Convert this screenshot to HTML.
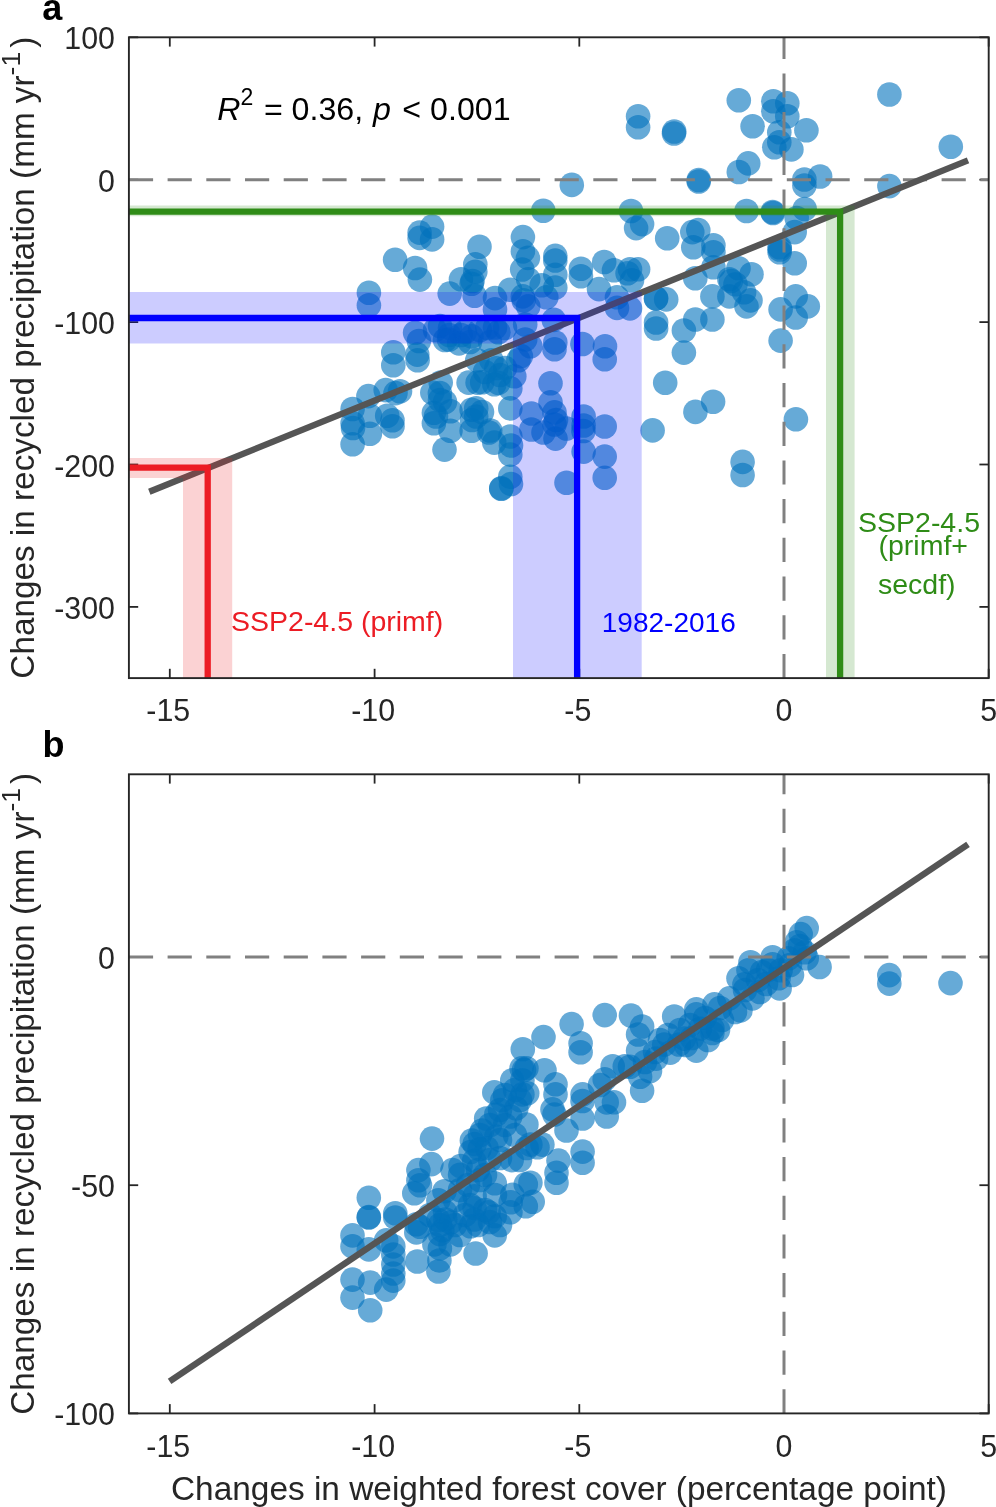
<!DOCTYPE html><html><head><meta charset="utf-8"><style>html,body{margin:0;padding:0;background:#fff;overflow:hidden}svg{display:block;will-change:transform}text{font-family:"Liberation Sans",sans-serif}</style></head><body><svg width="996" height="1507" viewBox="0 0 996 1507"><defs><clipPath id="ca"><rect x="128.9" y="37.3" width="859.8" height="640.8"/></clipPath><clipPath id="cb"><rect x="128.9" y="774.3" width="859.8" height="639.1"/></clipPath></defs><line x1="169.8" y1="678.1" x2="169.8" y2="668.8" stroke="#262626" stroke-width="1.8"/><line x1="169.8" y1="37.3" x2="169.8" y2="46.6" stroke="#262626" stroke-width="1.8"/><line x1="374.6" y1="678.1" x2="374.6" y2="668.8" stroke="#262626" stroke-width="1.8"/><line x1="374.6" y1="37.3" x2="374.6" y2="46.6" stroke="#262626" stroke-width="1.8"/><line x1="579.3" y1="678.1" x2="579.3" y2="668.8" stroke="#262626" stroke-width="1.8"/><line x1="579.3" y1="37.3" x2="579.3" y2="46.6" stroke="#262626" stroke-width="1.8"/><line x1="784.0" y1="678.1" x2="784.0" y2="668.8" stroke="#262626" stroke-width="1.8"/><line x1="784.0" y1="37.3" x2="784.0" y2="46.6" stroke="#262626" stroke-width="1.8"/><line x1="988.7" y1="678.1" x2="988.7" y2="668.8" stroke="#262626" stroke-width="1.8"/><line x1="988.7" y1="37.3" x2="988.7" y2="46.6" stroke="#262626" stroke-width="1.8"/><line x1="128.9" y1="37.3" x2="138.2" y2="37.3" stroke="#262626" stroke-width="1.8"/><line x1="988.7" y1="37.3" x2="979.4" y2="37.3" stroke="#262626" stroke-width="1.8"/><line x1="128.9" y1="179.7" x2="138.2" y2="179.7" stroke="#262626" stroke-width="1.8"/><line x1="988.7" y1="179.7" x2="979.4" y2="179.7" stroke="#262626" stroke-width="1.8"/><line x1="128.9" y1="322.1" x2="138.2" y2="322.1" stroke="#262626" stroke-width="1.8"/><line x1="988.7" y1="322.1" x2="979.4" y2="322.1" stroke="#262626" stroke-width="1.8"/><line x1="128.9" y1="464.5" x2="138.2" y2="464.5" stroke="#262626" stroke-width="1.8"/><line x1="988.7" y1="464.5" x2="979.4" y2="464.5" stroke="#262626" stroke-width="1.8"/><line x1="128.9" y1="606.9" x2="138.2" y2="606.9" stroke="#262626" stroke-width="1.8"/><line x1="988.7" y1="606.9" x2="979.4" y2="606.9" stroke="#262626" stroke-width="1.8"/><g clip-path="url(#ca)"><g fill="#0072bd" fill-opacity="0.6"><circle cx="419.6" cy="232.6" r="12.3"/><circle cx="419.6" cy="237.9" r="12.3"/><circle cx="432.1" cy="226.6" r="12.3"/><circle cx="432.1" cy="239.4" r="12.3"/><circle cx="395.1" cy="259.7" r="12.3"/><circle cx="415.1" cy="268.0" r="12.3"/><circle cx="419.9" cy="279.6" r="12.3"/><circle cx="368.9" cy="292.8" r="12.3"/><circle cx="368.9" cy="305.2" r="12.3"/><circle cx="475.3" cy="264.2" r="12.3"/><circle cx="475.3" cy="271.7" r="12.3"/><circle cx="461.0" cy="279.3" r="12.3"/><circle cx="471.6" cy="283.8" r="12.3"/><circle cx="449.7" cy="293.6" r="12.3"/><circle cx="474.6" cy="295.8" r="12.3"/><circle cx="415.1" cy="332.7" r="12.3"/><circle cx="418.9" cy="341.0" r="12.3"/><circle cx="393.3" cy="352.3" r="12.3"/><circle cx="417.3" cy="354.6" r="12.3"/><circle cx="440.0" cy="326.0" r="12.3"/><circle cx="449.0" cy="339.5" r="12.3"/><circle cx="461.0" cy="335.0" r="12.3"/><circle cx="393.3" cy="365.3" r="12.3"/><circle cx="352.6" cy="409.0" r="12.3"/><circle cx="368.4" cy="396.1" r="12.3"/><circle cx="385.7" cy="390.1" r="12.3"/><circle cx="395.5" cy="393.1" r="12.3"/><circle cx="352.6" cy="423.3" r="12.3"/><circle cx="352.6" cy="444.3" r="12.3"/><circle cx="369.9" cy="433.8" r="12.3"/><circle cx="387.2" cy="415.7" r="12.3"/><circle cx="392.5" cy="420.2" r="12.3"/><circle cx="392.5" cy="426.3" r="12.3"/><circle cx="440.7" cy="382.6" r="12.3"/><circle cx="439.9" cy="393.1" r="12.3"/><circle cx="433.9" cy="412.7" r="12.3"/><circle cx="433.9" cy="423.3" r="12.3"/><circle cx="450.5" cy="411.2" r="12.3"/><circle cx="450.5" cy="430.8" r="12.3"/><circle cx="444.5" cy="449.6" r="12.3"/><circle cx="468.6" cy="382.6" r="12.3"/><circle cx="471.6" cy="409.7" r="12.3"/><circle cx="471.6" cy="430.8" r="12.3"/><circle cx="477.6" cy="382.6" r="12.3"/><circle cx="369.9" cy="415.7" r="12.3"/><circle cx="543.3" cy="210.8" r="12.3"/><circle cx="522.9" cy="237.1" r="12.3"/><circle cx="522.9" cy="251.4" r="12.3"/><circle cx="527.9" cy="257.9" r="12.3"/><circle cx="555.3" cy="255.9" r="12.3"/><circle cx="555.3" cy="260.5" r="12.3"/><circle cx="522.2" cy="269.5" r="12.3"/><circle cx="555.3" cy="274.8" r="12.3"/><circle cx="555.3" cy="287.6" r="12.3"/><circle cx="580.9" cy="268.7" r="12.3"/><circle cx="580.9" cy="276.3" r="12.3"/><circle cx="604.2" cy="262.0" r="12.3"/><circle cx="614.0" cy="270.2" r="12.3"/><circle cx="627.6" cy="273.3" r="12.3"/><circle cx="599.0" cy="289.1" r="12.3"/><circle cx="617.0" cy="297.3" r="12.3"/><circle cx="617.0" cy="307.9" r="12.3"/><circle cx="528.2" cy="279.3" r="12.3"/><circle cx="541.7" cy="285.3" r="12.3"/><circle cx="510.1" cy="289.8" r="12.3"/><circle cx="495.0" cy="298.1" r="12.3"/><circle cx="495.0" cy="309.4" r="12.3"/><circle cx="523.7" cy="300.4" r="12.3"/><circle cx="528.2" cy="306.4" r="12.3"/><circle cx="546.3" cy="297.3" r="12.3"/><circle cx="553.8" cy="319.9" r="12.3"/><circle cx="495.0" cy="327.5" r="12.3"/><circle cx="525.2" cy="324.5" r="12.3"/><circle cx="525.2" cy="339.5" r="12.3"/><circle cx="555.3" cy="342.5" r="12.3"/><circle cx="582.4" cy="344.0" r="12.3"/><circle cx="605.0" cy="346.3" r="12.3"/><circle cx="554.5" cy="349.2" r="12.3"/><circle cx="530.4" cy="346.2" r="12.3"/><circle cx="604.7" cy="359.2" r="12.3"/><circle cx="550.5" cy="383.3" r="12.3"/><circle cx="550.5" cy="402.4" r="12.3"/><circle cx="554.5" cy="412.4" r="12.3"/><circle cx="554.5" cy="424.5" r="12.3"/><circle cx="531.4" cy="413.5" r="12.3"/><circle cx="531.4" cy="429.5" r="12.3"/><circle cx="543.5" cy="432.5" r="12.3"/><circle cx="555.5" cy="438.6" r="12.3"/><circle cx="566.5" cy="428.5" r="12.3"/><circle cx="583.6" cy="416.5" r="12.3"/><circle cx="583.6" cy="425.5" r="12.3"/><circle cx="604.7" cy="426.5" r="12.3"/><circle cx="583.6" cy="451.6" r="12.3"/><circle cx="604.7" cy="456.6" r="12.3"/><circle cx="604.7" cy="477.7" r="12.3"/><circle cx="566.5" cy="482.7" r="12.3"/><circle cx="510.3" cy="408.4" r="12.3"/><circle cx="510.3" cy="436.5" r="12.3"/><circle cx="510.3" cy="454.6" r="12.3"/><circle cx="510.3" cy="476.7" r="12.3"/><circle cx="501.3" cy="488.8" r="12.3"/><circle cx="514.3" cy="376.3" r="12.3"/><circle cx="510.3" cy="388.4" r="12.3"/><circle cx="494.3" cy="384.3" r="12.3"/><circle cx="482.2" cy="382.3" r="12.3"/><circle cx="496.3" cy="368.3" r="12.3"/><circle cx="518.4" cy="360.2" r="12.3"/><circle cx="476.2" cy="408.4" r="12.3"/><circle cx="476.2" cy="416.5" r="12.3"/><circle cx="490.2" cy="430.5" r="12.3"/><circle cx="494.3" cy="442.6" r="12.3"/><circle cx="436.0" cy="416.5" r="12.3"/><circle cx="631.0" cy="211.0" r="12.3"/><circle cx="636.1" cy="228.1" r="12.3"/><circle cx="642.1" cy="224.1" r="12.3"/><circle cx="667.2" cy="238.2" r="12.3"/><circle cx="692.3" cy="232.1" r="12.3"/><circle cx="698.3" cy="230.1" r="12.3"/><circle cx="693.3" cy="247.2" r="12.3"/><circle cx="713.4" cy="245.2" r="12.3"/><circle cx="713.4" cy="252.2" r="12.3"/><circle cx="713.4" cy="267.3" r="12.3"/><circle cx="695.3" cy="278.3" r="12.3"/><circle cx="746.5" cy="211.0" r="12.3"/><circle cx="772.6" cy="212.0" r="12.3"/><circle cx="804.7" cy="209.0" r="12.3"/><circle cx="796.7" cy="218.1" r="12.3"/><circle cx="794.7" cy="232.1" r="12.3"/><circle cx="779.6" cy="247.2" r="12.3"/><circle cx="779.6" cy="252.2" r="12.3"/><circle cx="794.7" cy="263.3" r="12.3"/><circle cx="638.1" cy="269.3" r="12.3"/><circle cx="630.0" cy="269.3" r="12.3"/><circle cx="632.0" cy="280.3" r="12.3"/><circle cx="656.1" cy="298.4" r="12.3"/><circle cx="666.2" cy="299.4" r="12.3"/><circle cx="630.0" cy="308.4" r="12.3"/><circle cx="656.1" cy="322.5" r="12.3"/><circle cx="656.1" cy="328.5" r="12.3"/><circle cx="729.4" cy="279.3" r="12.3"/><circle cx="738.5" cy="268.3" r="12.3"/><circle cx="751.5" cy="274.3" r="12.3"/><circle cx="735.5" cy="284.3" r="12.3"/><circle cx="729.4" cy="296.4" r="12.3"/><circle cx="712.4" cy="296.4" r="12.3"/><circle cx="750.5" cy="300.4" r="12.3"/><circle cx="746.5" cy="306.4" r="12.3"/><circle cx="695.3" cy="319.5" r="12.3"/><circle cx="712.4" cy="319.5" r="12.3"/><circle cx="683.9" cy="330.5" r="12.3"/><circle cx="683.9" cy="352.6" r="12.3"/><circle cx="665.2" cy="382.7" r="12.3"/><circle cx="780.6" cy="309.4" r="12.3"/><circle cx="795.7" cy="296.4" r="12.3"/><circle cx="795.7" cy="317.5" r="12.3"/><circle cx="807.8" cy="306.4" r="12.3"/><circle cx="780.6" cy="340.6" r="12.3"/><circle cx="638.1" cy="116.2" r="12.3"/><circle cx="638.1" cy="127.2" r="12.3"/><circle cx="674.2" cy="131.5" r="12.3"/><circle cx="698.7" cy="180.0" r="12.3"/><circle cx="571.8" cy="184.9" r="12.3"/><circle cx="738.8" cy="100.2" r="12.3"/><circle cx="773.3" cy="101.2" r="12.3"/><circle cx="787.3" cy="103.2" r="12.3"/><circle cx="773.3" cy="111.2" r="12.3"/><circle cx="787.3" cy="116.2" r="12.3"/><circle cx="752.6" cy="126.3" r="12.3"/><circle cx="779.3" cy="132.3" r="12.3"/><circle cx="806.4" cy="130.3" r="12.3"/><circle cx="779.3" cy="142.3" r="12.3"/><circle cx="774.3" cy="147.3" r="12.3"/><circle cx="791.4" cy="149.4" r="12.3"/><circle cx="748.2" cy="163.4" r="12.3"/><circle cx="738.8" cy="172.0" r="12.3"/><circle cx="804.4" cy="179.5" r="12.3"/><circle cx="804.4" cy="185.5" r="12.3"/><circle cx="820.1" cy="176.5" r="12.3"/><circle cx="889.4" cy="94.5" r="12.3"/><circle cx="889.4" cy="186.1" r="12.3"/><circle cx="950.8" cy="146.7" r="12.3"/><circle cx="795.9" cy="419.3" r="12.3"/><circle cx="744.1" cy="292.2" r="12.3"/><circle cx="713.1" cy="401.7" r="12.3"/><circle cx="695.4" cy="411.9" r="12.3"/><circle cx="652.6" cy="430.4" r="12.3"/><circle cx="742.6" cy="461.9" r="12.3"/><circle cx="742.6" cy="475.0" r="12.3"/><circle cx="417.6" cy="360.3" r="12.3"/><circle cx="449.2" cy="335.0" r="12.3"/><circle cx="459.0" cy="343.4" r="12.3"/><circle cx="471.7" cy="336.4" r="12.3"/><circle cx="487.2" cy="328.0" r="12.3"/><circle cx="498.4" cy="332.2" r="12.3"/><circle cx="520.9" cy="356.1" r="12.3"/><circle cx="477.3" cy="360.3" r="12.3"/><circle cx="491.4" cy="360.3" r="12.3"/><circle cx="498.4" cy="382.8" r="12.3"/><circle cx="432.3" cy="392.6" r="12.3"/><circle cx="400.0" cy="391.2" r="12.3"/><circle cx="435.0" cy="330.0" r="12.3"/><circle cx="450.0" cy="328.0" r="12.3"/><circle cx="465.0" cy="332.0" r="12.3"/><circle cx="480.0" cy="330.0" r="12.3"/><circle cx="505.0" cy="328.0" r="12.3"/><circle cx="445.0" cy="340.0" r="12.3"/><circle cx="470.0" cy="342.0" r="12.3"/><circle cx="490.0" cy="342.0" r="12.3"/><circle cx="505.0" cy="368.0" r="12.3"/><circle cx="500.0" cy="375.0" r="12.3"/><circle cx="485.0" cy="372.0" r="12.3"/><circle cx="353.0" cy="428.0" r="12.3"/><circle cx="440.0" cy="400.0" r="12.3"/><circle cx="472.0" cy="420.0" r="12.3"/><circle cx="479.5" cy="246.7" r="12.3"/><circle cx="522.8" cy="296.4" r="12.3"/><circle cx="445.0" cy="402.0" r="12.3"/><circle cx="482.0" cy="412.0" r="12.3"/><circle cx="556.0" cy="420.0" r="12.3"/><circle cx="511.0" cy="445.5" r="12.3"/><circle cx="511.0" cy="484.0" r="12.3"/><circle cx="583.4" cy="431.0" r="12.3"/><circle cx="501.3" cy="488.3" r="12.3"/><circle cx="472.5" cy="281.0" r="12.3"/><circle cx="731.0" cy="281.0" r="12.3"/><circle cx="656.0" cy="298.5" r="12.3"/><circle cx="489.0" cy="432.5" r="12.3"/><circle cx="698.7" cy="181.5" r="12.3"/><circle cx="674.0" cy="133.5" r="12.3"/><circle cx="773.0" cy="213.0" r="12.3"/><circle cx="779.8" cy="249.5" r="12.3"/></g><g stroke="#808080" stroke-width="3.0" stroke-dasharray="24.2 14.5" fill="none"><line x1="128.9" y1="179.7" x2="988.7" y2="179.7"/><line x1="784.0" y1="678.1" x2="784.0" y2="37.3"/></g><line x1="149.3" y1="491.8" x2="968.0" y2="160.4" stroke="#555555" stroke-width="6.4"/><path d="M128.9 458.1 H232.2 V678.1 H183.0 V478.0 H128.9 Z" fill="#ec1c24" fill-opacity="0.2"/><path d="M128.9 292.1 H641.7 V678.1 H513.0 V343.6 H128.9 Z" fill="#0000ff" fill-opacity="0.2"/><path d="M128.9 205.4 H854.6 V678.1 H826.0 V216.3 H128.9 Z" fill="#2f8c17" fill-opacity="0.2"/><path d="M128.9 467.7 H207.7 V681.1" fill="none" stroke="#ec1c24" stroke-width="6.3"/><path d="M128.9 318.0 H577.1 V681.1" fill="none" stroke="#0000ff" stroke-width="6.3"/><path d="M128.9 211.7 H840.1 V681.1" fill="none" stroke="#2f8c17" stroke-width="6.3"/></g><rect x="128.9" y="37.3" width="859.8" height="640.8" fill="none" stroke="#262626" stroke-width="1.9"/><text transform="translate(168.3,721.3) scale(1.012,1.07)" font-size="30" fill="#262626" text-anchor="middle">-15</text><text transform="translate(373.1,721.3) scale(1.012,1.07)" font-size="30" fill="#262626" text-anchor="middle">-10</text><text transform="translate(577.8,721.3) scale(1.012,1.07)" font-size="30" fill="#262626" text-anchor="middle">-5</text><text transform="translate(784.0,721.3) scale(1.012,1.07)" font-size="30" fill="#262626" text-anchor="middle">0</text><text transform="translate(988.7,721.3) scale(1.012,1.07)" font-size="30" fill="#262626" text-anchor="middle">5</text><text transform="translate(114.9,49.3) scale(1.012,1.07)" font-size="30" fill="#262626" text-anchor="end">100</text><text transform="translate(114.9,191.7) scale(1.012,1.07)" font-size="30" fill="#262626" text-anchor="end">0</text><text transform="translate(114.9,334.1) scale(1.012,1.07)" font-size="30" fill="#262626" text-anchor="end">-100</text><text transform="translate(114.9,476.5) scale(1.012,1.07)" font-size="30" fill="#262626" text-anchor="end">-200</text><text transform="translate(114.9,618.9) scale(1.012,1.07)" font-size="30" fill="#262626" text-anchor="end">-300</text><text transform="translate(33.8,357.7) rotate(-90)" font-size="33.3" fill="#262626" text-anchor="middle">Changes in recycled precipitation (mm yr<tspan dy="-14" font-size="26.5">-1</tspan><tspan dy="14" dx="4">)</tspan></text><line x1="169.8" y1="1413.4" x2="169.8" y2="1404.1" stroke="#262626" stroke-width="1.8"/><line x1="169.8" y1="774.3" x2="169.8" y2="783.6" stroke="#262626" stroke-width="1.8"/><line x1="374.6" y1="1413.4" x2="374.6" y2="1404.1" stroke="#262626" stroke-width="1.8"/><line x1="374.6" y1="774.3" x2="374.6" y2="783.6" stroke="#262626" stroke-width="1.8"/><line x1="579.3" y1="1413.4" x2="579.3" y2="1404.1" stroke="#262626" stroke-width="1.8"/><line x1="579.3" y1="774.3" x2="579.3" y2="783.6" stroke="#262626" stroke-width="1.8"/><line x1="784.0" y1="1413.4" x2="784.0" y2="1404.1" stroke="#262626" stroke-width="1.8"/><line x1="784.0" y1="774.3" x2="784.0" y2="783.6" stroke="#262626" stroke-width="1.8"/><line x1="988.7" y1="1413.4" x2="988.7" y2="1404.1" stroke="#262626" stroke-width="1.8"/><line x1="988.7" y1="774.3" x2="988.7" y2="783.6" stroke="#262626" stroke-width="1.8"/><line x1="128.9" y1="956.9" x2="138.2" y2="956.9" stroke="#262626" stroke-width="1.8"/><line x1="988.7" y1="956.9" x2="979.4" y2="956.9" stroke="#262626" stroke-width="1.8"/><line x1="128.9" y1="1185.2" x2="138.2" y2="1185.2" stroke="#262626" stroke-width="1.8"/><line x1="988.7" y1="1185.2" x2="979.4" y2="1185.2" stroke="#262626" stroke-width="1.8"/><line x1="128.9" y1="1413.4" x2="138.2" y2="1413.4" stroke="#262626" stroke-width="1.8"/><line x1="988.7" y1="1413.4" x2="979.4" y2="1413.4" stroke="#262626" stroke-width="1.8"/><g clip-path="url(#cb)"><g fill="#0072bd" fill-opacity="0.6"><circle cx="368.8" cy="1197.8" r="12.3"/><circle cx="352.5" cy="1235.4" r="12.3"/><circle cx="352.5" cy="1246.4" r="12.3"/><circle cx="368.8" cy="1249.4" r="12.3"/><circle cx="352.5" cy="1279.6" r="12.3"/><circle cx="352.5" cy="1297.6" r="12.3"/><circle cx="370.2" cy="1282.6" r="12.3"/><circle cx="370.2" cy="1310.3" r="12.3"/><circle cx="395.3" cy="1213.3" r="12.3"/><circle cx="395.3" cy="1217.5" r="12.3"/><circle cx="386.2" cy="1240.4" r="12.3"/><circle cx="393.3" cy="1246.4" r="12.3"/><circle cx="393.3" cy="1254.5" r="12.3"/><circle cx="393.3" cy="1264.5" r="12.3"/><circle cx="393.3" cy="1273.5" r="12.3"/><circle cx="393.3" cy="1280.6" r="12.3"/><circle cx="386.2" cy="1289.6" r="12.3"/><circle cx="418.4" cy="1170.1" r="12.3"/><circle cx="418.4" cy="1180.2" r="12.3"/><circle cx="414.3" cy="1193.2" r="12.3"/><circle cx="431.4" cy="1164.1" r="12.3"/><circle cx="416.3" cy="1224.3" r="12.3"/><circle cx="416.3" cy="1232.4" r="12.3"/><circle cx="417.3" cy="1261.5" r="12.3"/><circle cx="438.4" cy="1271.5" r="12.3"/><circle cx="439.4" cy="1260.5" r="12.3"/><circle cx="434.4" cy="1244.4" r="12.3"/><circle cx="444.5" cy="1191.2" r="12.3"/><circle cx="438.4" cy="1200.2" r="12.3"/><circle cx="438.4" cy="1220.3" r="12.3"/><circle cx="442.4" cy="1230.4" r="12.3"/><circle cx="450.5" cy="1222.3" r="12.3"/><circle cx="450.5" cy="1244.4" r="12.3"/><circle cx="460.5" cy="1166.1" r="12.3"/><circle cx="470.6" cy="1152.0" r="12.3"/><circle cx="474.6" cy="1144.0" r="12.3"/><circle cx="486.6" cy="1148.0" r="12.3"/><circle cx="474.6" cy="1196.2" r="12.3"/><circle cx="474.6" cy="1208.3" r="12.3"/><circle cx="470.6" cy="1226.3" r="12.3"/><circle cx="475.6" cy="1253.5" r="12.3"/><circle cx="494.7" cy="1183.2" r="12.3"/><circle cx="494.7" cy="1216.3" r="12.3"/><circle cx="494.7" cy="1235.4" r="12.3"/><circle cx="488.6" cy="1212.3" r="12.3"/><circle cx="510.7" cy="1202.2" r="12.3"/><circle cx="511.7" cy="1160.1" r="12.3"/><circle cx="525.8" cy="1184.2" r="12.3"/><circle cx="525.8" cy="1206.3" r="12.3"/><circle cx="526.8" cy="1148.0" r="12.3"/><circle cx="452.5" cy="1170.1" r="12.3"/><circle cx="604.7" cy="1015.1" r="12.3"/><circle cx="571.6" cy="1024.1" r="12.3"/><circle cx="580.6" cy="1043.2" r="12.3"/><circle cx="580.6" cy="1052.2" r="12.3"/><circle cx="543.5" cy="1037.1" r="12.3"/><circle cx="522.8" cy="1049.2" r="12.3"/><circle cx="526.4" cy="1068.3" r="12.3"/><circle cx="544.5" cy="1070.3" r="12.3"/><circle cx="512.3" cy="1080.3" r="12.3"/><circle cx="522.4" cy="1080.3" r="12.3"/><circle cx="494.3" cy="1092.4" r="12.3"/><circle cx="502.3" cy="1100.4" r="12.3"/><circle cx="522.4" cy="1094.4" r="12.3"/><circle cx="555.5" cy="1084.3" r="12.3"/><circle cx="555.5" cy="1094.4" r="12.3"/><circle cx="552.5" cy="1109.4" r="12.3"/><circle cx="554.5" cy="1114.5" r="12.3"/><circle cx="486.2" cy="1118.5" r="12.3"/><circle cx="496.3" cy="1114.5" r="12.3"/><circle cx="510.3" cy="1116.5" r="12.3"/><circle cx="526.4" cy="1124.5" r="12.3"/><circle cx="516.3" cy="1108.4" r="12.3"/><circle cx="482.2" cy="1130.5" r="12.3"/><circle cx="496.3" cy="1136.5" r="12.3"/><circle cx="460.1" cy="1174.7" r="12.3"/><circle cx="474.2" cy="1160.6" r="12.3"/><circle cx="432.0" cy="1138.6" r="12.3"/><circle cx="582.6" cy="1094.4" r="12.3"/><circle cx="582.6" cy="1118.5" r="12.3"/><circle cx="566.5" cy="1130.5" r="12.3"/><circle cx="542.4" cy="1144.6" r="12.3"/><circle cx="530.4" cy="1144.6" r="12.3"/><circle cx="558.5" cy="1160.6" r="12.3"/><circle cx="556.5" cy="1172.7" r="12.3"/><circle cx="556.5" cy="1182.7" r="12.3"/><circle cx="530.4" cy="1182.7" r="12.3"/><circle cx="582.6" cy="1151.6" r="12.3"/><circle cx="582.6" cy="1162.7" r="12.3"/><circle cx="604.7" cy="1079.3" r="12.3"/><circle cx="612.7" cy="1066.3" r="12.3"/><circle cx="606.7" cy="1102.4" r="12.3"/><circle cx="606.7" cy="1116.5" r="12.3"/><circle cx="624.8" cy="1066.3" r="12.3"/><circle cx="512.3" cy="1194.8" r="12.3"/><circle cx="806.7" cy="928.1" r="12.3"/><circle cx="800.7" cy="934.1" r="12.3"/><circle cx="796.7" cy="942.2" r="12.3"/><circle cx="794.7" cy="950.2" r="12.3"/><circle cx="804.7" cy="952.2" r="12.3"/><circle cx="806.7" cy="958.2" r="12.3"/><circle cx="772.6" cy="957.2" r="12.3"/><circle cx="772.6" cy="964.3" r="12.3"/><circle cx="780.6" cy="970.3" r="12.3"/><circle cx="778.6" cy="978.3" r="12.3"/><circle cx="779.6" cy="988.4" r="12.3"/><circle cx="788.7" cy="958.2" r="12.3"/><circle cx="750.5" cy="962.2" r="12.3"/><circle cx="748.5" cy="970.3" r="12.3"/><circle cx="738.5" cy="978.3" r="12.3"/><circle cx="744.5" cy="984.3" r="12.3"/><circle cx="752.5" cy="998.4" r="12.3"/><circle cx="729.4" cy="998.4" r="12.3"/><circle cx="740.5" cy="1010.4" r="12.3"/><circle cx="714.4" cy="1004.4" r="12.3"/><circle cx="696.3" cy="1009.4" r="12.3"/><circle cx="696.3" cy="1014.4" r="12.3"/><circle cx="712.4" cy="1028.5" r="12.3"/><circle cx="712.4" cy="1033.0" r="12.3"/><circle cx="696.3" cy="1050.6" r="12.3"/><circle cx="684.3" cy="1038.6" r="12.3"/><circle cx="674.2" cy="1016.5" r="12.3"/><circle cx="700.3" cy="1028.5" r="12.3"/><circle cx="670.2" cy="1052.6" r="12.3"/><circle cx="664.2" cy="1044.6" r="12.3"/><circle cx="656.1" cy="1058.6" r="12.3"/><circle cx="631.0" cy="1015.5" r="12.3"/><circle cx="642.1" cy="1026.5" r="12.3"/><circle cx="638.1" cy="1034.5" r="12.3"/><circle cx="638.1" cy="1050.6" r="12.3"/><circle cx="630.0" cy="1066.7" r="12.3"/><circle cx="640.1" cy="1076.7" r="12.3"/><circle cx="642.1" cy="1090.8" r="12.3"/><circle cx="614.0" cy="1102.3" r="12.3"/><circle cx="679.0" cy="1044.5" r="12.3"/><circle cx="532.7" cy="1201.7" r="12.3"/><circle cx="520.0" cy="1160.0" r="12.3"/><circle cx="527.2" cy="1093.3" r="12.3"/><circle cx="510.4" cy="1212.3" r="12.3"/><circle cx="474.2" cy="1219.5" r="12.3"/><circle cx="445.3" cy="1219.5" r="12.3"/><circle cx="439.9" cy="1234.0" r="12.3"/><circle cx="439.9" cy="1248.4" r="12.3"/><circle cx="420.0" cy="1226.8" r="12.3"/><circle cx="537.5" cy="1147.2" r="12.3"/><circle cx="479.6" cy="1149.0" r="12.3"/><circle cx="420.0" cy="1185.2" r="12.3"/><circle cx="889.3" cy="975.1" r="12.3"/><circle cx="889.3" cy="983.6" r="12.3"/><circle cx="950.5" cy="983.1" r="12.3"/><circle cx="819.6" cy="967.0" r="12.3"/><circle cx="521.6" cy="1068.2" r="12.3"/><circle cx="471.9" cy="1140.5" r="12.3"/><circle cx="505.0" cy="1095.0" r="12.3"/><circle cx="515.0" cy="1090.0" r="12.3"/><circle cx="500.0" cy="1110.0" r="12.3"/><circle cx="490.0" cy="1125.0" r="12.3"/><circle cx="480.0" cy="1135.0" r="12.3"/><circle cx="500.0" cy="1140.0" r="12.3"/><circle cx="490.0" cy="1160.0" r="12.3"/><circle cx="505.0" cy="1125.0" r="12.3"/><circle cx="515.0" cy="1135.0" r="12.3"/><circle cx="478.0" cy="1170.0" r="12.3"/><circle cx="468.0" cy="1185.0" r="12.3"/><circle cx="520.0" cy="1100.0" r="12.3"/><circle cx="485.0" cy="1175.0" r="12.3"/><circle cx="660.0" cy="1040.0" r="12.3"/><circle cx="668.0" cy="1035.0" r="12.3"/><circle cx="680.0" cy="1030.0" r="12.3"/><circle cx="686.0" cy="1045.0" r="12.3"/><circle cx="690.0" cy="1025.0" r="12.3"/><circle cx="692.0" cy="1038.0" r="12.3"/><circle cx="705.0" cy="1018.0" r="12.3"/><circle cx="708.0" cy="1040.0" r="12.3"/><circle cx="720.0" cy="1008.0" r="12.3"/><circle cx="722.0" cy="1020.0" r="12.3"/><circle cx="718.0" cy="1030.0" r="12.3"/><circle cx="735.0" cy="1012.0" r="12.3"/><circle cx="745.0" cy="990.0" r="12.3"/><circle cx="758.0" cy="980.0" r="12.3"/><circle cx="760.0" cy="992.0" r="12.3"/><circle cx="762.0" cy="972.0" r="12.3"/><circle cx="768.0" cy="970.0" r="12.3"/><circle cx="766.0" cy="984.0" r="12.3"/><circle cx="790.0" cy="965.0" r="12.3"/><circle cx="792.0" cy="975.0" r="12.3"/><circle cx="800.0" cy="946.0" r="12.3"/><circle cx="430.0" cy="1215.0" r="12.3"/><circle cx="445.0" cy="1212.0" r="12.3"/><circle cx="455.0" cy="1225.0" r="12.3"/><circle cx="465.0" cy="1215.0" r="12.3"/><circle cx="478.0" cy="1225.0" r="12.3"/><circle cx="490.0" cy="1222.0" r="12.3"/><circle cx="500.0" cy="1225.0" r="12.3"/><circle cx="460.0" cy="1235.0" r="12.3"/><circle cx="440.0" cy="1225.0" r="12.3"/><circle cx="485.0" cy="1210.0" r="12.3"/><circle cx="470.0" cy="1205.0" r="12.3"/><circle cx="455.0" cy="1200.0" r="12.3"/><circle cx="460.0" cy="1190.0" r="12.3"/><circle cx="480.0" cy="1180.0" r="12.3"/><circle cx="495.0" cy="1195.0" r="12.3"/><circle cx="645.0" cy="1062.0" r="12.3"/><circle cx="655.0" cy="1052.0" r="12.3"/><circle cx="650.0" cy="1071.0" r="12.3"/><circle cx="600.0" cy="1085.0" r="12.3"/><circle cx="500.0" cy="1158.0" r="12.3"/><circle cx="524.0" cy="1070.0" r="12.3"/><circle cx="582.5" cy="1101.0" r="12.3"/><circle cx="368.8" cy="1217.0" r="12.3"/><circle cx="368.8" cy="1217.5" r="12.3"/></g><g stroke="#808080" stroke-width="3.0" stroke-dasharray="24.2 14.5" fill="none"><line x1="128.9" y1="956.9" x2="988.7" y2="956.9"/><line x1="784.0" y1="1413.4" x2="784.0" y2="774.3"/></g><line x1="169.6" y1="1381.4" x2="968.0" y2="844.3" stroke="#555555" stroke-width="6.4"/></g><rect x="128.9" y="774.3" width="859.8" height="639.1" fill="none" stroke="#262626" stroke-width="1.9"/><text transform="translate(168.3,1456.6) scale(1.012,1.07)" font-size="30" fill="#262626" text-anchor="middle">-15</text><text transform="translate(373.1,1456.6) scale(1.012,1.07)" font-size="30" fill="#262626" text-anchor="middle">-10</text><text transform="translate(577.8,1456.6) scale(1.012,1.07)" font-size="30" fill="#262626" text-anchor="middle">-5</text><text transform="translate(784.0,1456.6) scale(1.012,1.07)" font-size="30" fill="#262626" text-anchor="middle">0</text><text transform="translate(988.7,1456.6) scale(1.012,1.07)" font-size="30" fill="#262626" text-anchor="middle">5</text><text transform="translate(114.9,968.9) scale(1.012,1.07)" font-size="30" fill="#262626" text-anchor="end">0</text><text transform="translate(114.9,1197.2) scale(1.012,1.07)" font-size="30" fill="#262626" text-anchor="end">-50</text><text transform="translate(114.9,1425.4) scale(1.012,1.07)" font-size="30" fill="#262626" text-anchor="end">-100</text><text transform="translate(33.8,1093.8) rotate(-90)" font-size="33.3" fill="#262626" text-anchor="middle">Changes in recycled precipitation (mm yr<tspan dy="-14" font-size="26.5">-1</tspan><tspan dy="14" dx="4">)</tspan></text><text x="217.3" y="120.2" font-size="32.2" fill="#000"><tspan font-style="italic">R</tspan><tspan dy="-15.3" font-size="23">2</tspan><tspan dy="15.3" dx="1.6"> = 0.36, </tspan><tspan font-style="italic" dx="0.8">p</tspan><tspan dx="2.5"> &lt; 0.001</tspan></text><text x="231" y="631.3" font-size="28.5" fill="#ec1c24">SSP2-4.5 (primf)</text><text x="601.8" y="631.8" font-size="28" fill="#0000ff">1982-2016</text><text x="858" y="532.2" font-size="28.5" fill="#2f8c17">SSP2-4.5</text><text x="878.5" y="555" font-size="28.5" fill="#2f8c17">(primf+</text><text x="878" y="594.2" font-size="28.5" fill="#2f8c17">secdf)</text><text x="42.3" y="20" font-size="36" font-weight="bold" fill="#000">a</text><text x="42.5" y="756.6" font-size="36" font-weight="bold" fill="#000">b</text><text x="171" y="1499.6" font-size="33.4" fill="#262626">Changes in weighted forest cover (percentage point)</text></svg></body></html>
